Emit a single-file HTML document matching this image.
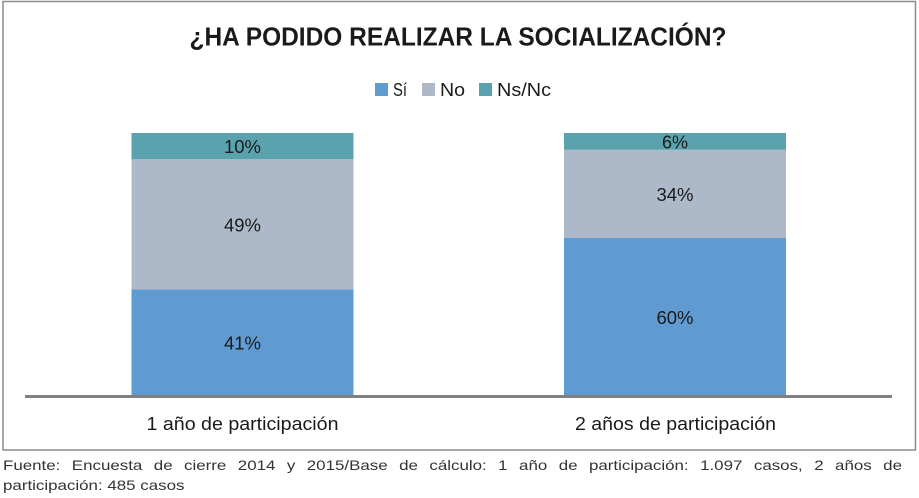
<!DOCTYPE html>
<html lang="es">
<head>
<meta charset="utf-8">
<title>¿Ha podido realizar la socialización?</title>
<style>
html,body{margin:0;padding:0;background:#fff;width:919px;height:498px;overflow:hidden}
svg{display:block;position:absolute;left:0;top:0}
text{font-family:"Liberation Sans",sans-serif;fill:#1a1a1a}
.foot{fill:#333;font-size:14px}
</style>
</head>
<body>
<svg id="chart" width="919" height="498" viewBox="0 0 919 498" xmlns="http://www.w3.org/2000/svg">
  <rect x="3" y="1.5" width="912.5" height="448.5" fill="#fff" stroke="#8c8c8c" stroke-width="1.5"/>
  <text x="458" y="45.5" text-anchor="middle" font-size="26" font-weight="700" textLength="537" lengthAdjust="spacingAndGlyphs" fill="#111">¿HA PODIDO REALIZAR LA SOCIALIZACIÓN?</text>
  <g id="legend"></g>
  <g id="bars"></g>
  <line x1="25" y1="396.5" x2="892" y2="396.5" stroke="#808080" stroke-width="3"/>
  <g id="xlabels"></g>
  <text id="foot1" class="foot" transform="translate(3 470) scale(1.21 1)" x="0" y="0">Fuente: Encuesta de cierre 2014 y 2015/Base de cálculo: 1 año de participación: 1.097 casos, 2 años de</text>
  <text class="foot" transform="translate(3 490) scale(1.21 1)" x="0" y="0">participación: 485 casos</text>
</svg>
<script>
const categories = ['1 año de participación', '2 años de participación'];
const seriesNames = ['Sí', 'No', 'Ns/Nc'];
const valuesSi = [40.4, 60];
const valuesNo = [49.6, 33.6];
const valuesNsNc = [10, 6.4];
const printedSi = ['41%', '60%'];
const printedNo = ['49%', '34%'];
const printedNsNc = ['10%', '6%'];

const seriesValues = [valuesSi, valuesNo, valuesNsNc];
const seriesPrinted = [printedSi, printedNo, printedNsNc];
const seriesColors = ['#5f9bd1', '#adb9c9', '#5aa2ae'];
const seriesKeys = ['si', 'no', 'ns-nc'];

const NS = 'http://www.w3.org/2000/svg';
const plotLeft = 25, plotRight = 892, plotTop = 133, plotBottom = 395.5;
const barWidth = 222;

function yScale(v) {
  return plotBottom - (v / 100) * (plotBottom - plotTop);
}
function xCenter(i) {
  return plotLeft + 217.5 + i * 432.5;
}
function make(tag, parent, attrs) {
  const el = document.createElementNS(NS, tag);
  for (const k in attrs) el.setAttribute(k, attrs[k]);
  parent.appendChild(el);
  return el;
}

const barsGroup = document.getElementById('bars');
const xGroup = document.getElementById('xlabels');

categories.forEach(function (cat, i) {
  let cum = 0;
  seriesValues.forEach(function (vals, s) {
    const y0 = yScale(cum);
    const y1 = yScale(cum + vals[i]);
    cum += vals[i];
    const rect = make('rect', barsGroup, { x: xCenter(i) - barWidth / 2, y: y1, width: barWidth, height: y0 - y1, fill: seriesColors[s] });
    
    
    const label = make('text', barsGroup, { x: xCenter(i), y: (y0 + y1) / 2 + 7, 'text-anchor': 'middle', 'font-size': 18, textLength: seriesPrinted[s][i].length === 3 ? 37 : 26, lengthAdjust: 'spacingAndGlyphs' });
    label.textContent = seriesPrinted[s][i];
    
    
  });
  const xl = make('text', xGroup, { x: xCenter(i) + (i === 0 ? 0 : 0.5), y: 430, 'text-anchor': 'middle', 'font-size': 18.5, textLength: i === 0 ? 192 : 201, lengthAdjust: 'spacingAndGlyphs' });
  xl.textContent = cat;
  
  
});

const legendGroup = document.getElementById('legend');
const legendSwatchX = [375, 422, 479];
const legendTextWidths = [14, 25, 54];
seriesNames.forEach(function (name, s) {
  const sw = make('rect', legendGroup, { x: legendSwatchX[s], y: 83, width: 13, height: 13, fill: seriesColors[s] });
  
  
  const t = make('text', legendGroup, { x: legendSwatchX[s] + 18, y: 96, 'font-size': 18, textLength: legendTextWidths[s], lengthAdjust: 'spacingAndGlyphs' });
  t.textContent = name;
  
  
});

const foot1 = document.getElementById('foot1');
const footGaps = foot1.textContent.split(' ').length - 1;
const footTarget = 899 / 1.21;
foot1.style.wordSpacing = ((footTarget - foot1.getComputedTextLength()) / footGaps) + 'px';
</script>
</body>
</html>
